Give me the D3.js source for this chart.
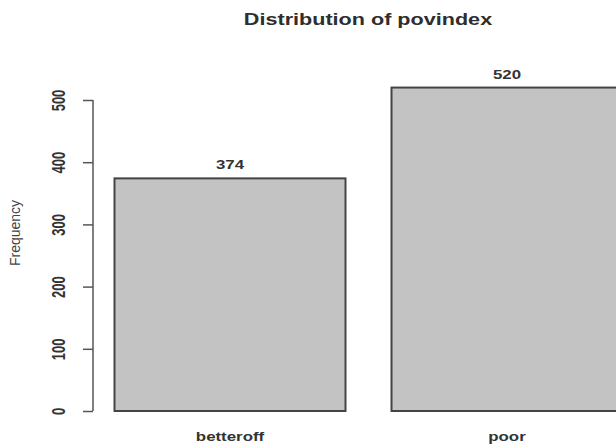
<!DOCTYPE html>
<html>
<head>
<meta charset="utf-8">
<script src="https://cdn.jsdelivr.net/npm/d3@7"></script>
<style>
  html, body { margin: 0; padding: 0; background: #fff; overflow: hidden; }
  text { font-family: "Liberation Sans", Arial, sans-serif; }
</style>
</head>
<body>
<svg id="chart" width="616" height="446"></svg>
<script>
const categories = ["betteroff", "poor"];
const frequencies = [374, 520];
const yTicks = [0, 100, 200, 300, 400, 500];
const titleText = "Distribution of povindex";
const yLabel = "Frequency";

const svg = d3.select("#chart");
const SX = 1.35; // horizontal text stretch seen in the reference

const y = d3.scaleLinear().domain([0, 500]).range([411, 100]);
const x = d3.scaleBand().domain(categories).range([114.5, 622.5])
  .paddingInner(46 / 277).paddingOuter(0);

// bars
svg.append("g").selectAll("rect").data(categories).join("rect")
  .attr("x", d => x(d))
  .attr("y", (d, i) => y(frequencies[i]))
  .attr("width", x.bandwidth())
  .attr("height", (d, i) => y(0) - y(frequencies[i]))
  .attr("fill", "#c3c3c3")
  .attr("stroke", "#444")
  .attr("stroke-width", 2);

// value labels
svg.append("g").selectAll("text").data(categories).join("text")
  .attr("transform", (d, i) =>
    `translate(${x(d) + x.bandwidth() / 2},${y(frequencies[i]) - 9}) scale(${SX},1)`)
  .attr("text-anchor", "middle")
  .attr("font-size", 12.5)
  .attr("font-weight", "bold")
  .attr("fill", "#333")
  .text((d, i) => frequencies[i]);

// category labels
svg.append("g").selectAll("text").data(categories).join("text")
  .attr("transform", d => `translate(${x(d) + x.bandwidth() / 2},441) scale(${SX},1)`)
  .attr("text-anchor", "middle")
  .attr("font-size", 12.5)
  .attr("font-weight", "bold")
  .attr("fill", "#333")
  .text(d => d);

// y axis
const axis = d3.axisLeft(y).tickValues(yTicks).tickSize(10).tickPadding(22);
const gA = svg.append("g").attr("transform", "translate(93,0)").call(axis);
gA.select(".domain").attr("stroke", "#555").attr("stroke-width", 1.5)
  .attr("d", `M0,${y(500)}V${y(0)}`);
gA.selectAll(".tick line").attr("stroke", "#555").attr("stroke-width", 1.5);
gA.selectAll(".tick text")
  .attr("font-size", 13)
  .attr("font-weight", "bold")
  .attr("fill", "#333")
  .attr("font-family", "'Liberation Sans', Arial, sans-serif")
  .attr("text-anchor", "middle")
  .attr("x", 0).attr("dy", 0).attr("y", 0)
  .attr("transform", `translate(-34,0) scale(${SX},1) rotate(-90) translate(0,4.5)`);

// y label
svg.append("text")
  .attr("transform", "translate(20,233) rotate(-90)")
  .attr("text-anchor", "middle")
  .attr("font-size", 14)
  .attr("fill", "#444")
  .text(yLabel);

// title
svg.append("text")
  .attr("transform", `translate(368,25) scale(${SX},1)`)
  .attr("text-anchor", "middle")
  .attr("font-size", 16)
  .attr("font-weight", "bold")
  .attr("fill", "#2e2e2e")
  .text(titleText);
</script>
</body>
</html>
